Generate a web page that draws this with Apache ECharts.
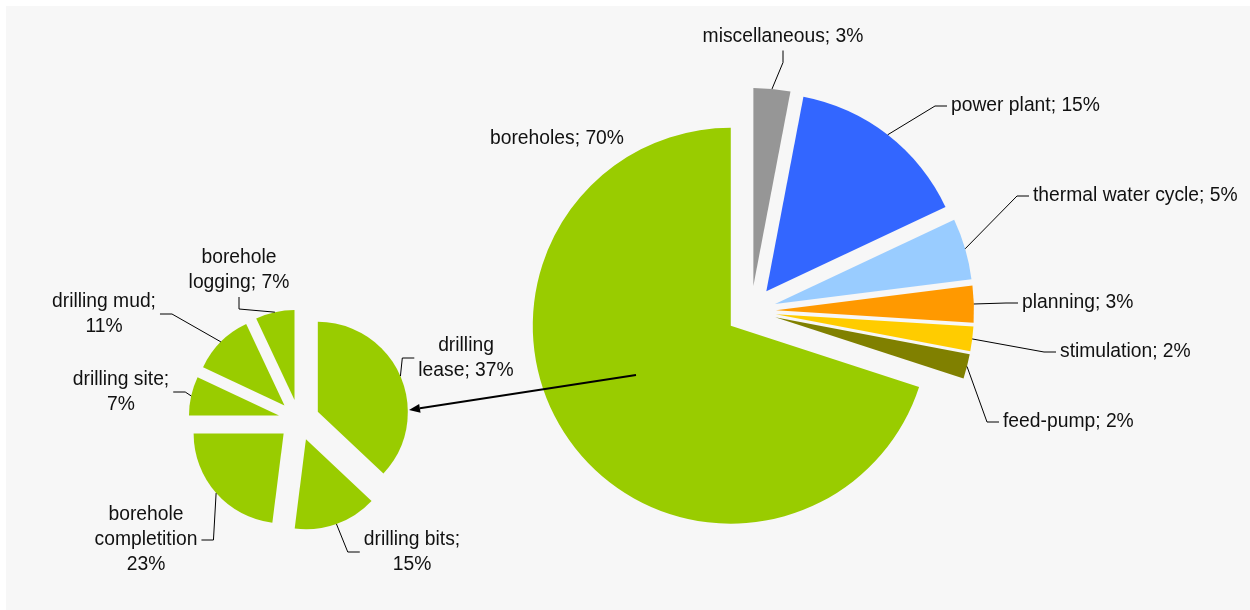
<!DOCTYPE html>
<html>
<head>
<meta charset="utf-8">
<script src="https://cdn.jsdelivr.net/npm/echarts@6/dist/echarts.min.js"></script>
<style>
  html, body { margin: 0; padding: 0; background: #fff; }
  #chart { width: 1250px; height: 610px; }
</style>
</head>
<body>
<div id="chart"></div>
<script>
// Cost shares of a geothermal project; the boreholes share is broken down in the small pie.
const mainNames  = ['miscellaneous', 'power plant', 'thermal water cycle', 'planning', 'stimulation', 'feed-pump', 'boreholes'];
const mainShares = [3, 15, 5, 3, 2, 2, 70];

const boreNames  = ['drilling lease', 'drilling bits', 'borehole completition', 'drilling site', 'drilling mud', 'borehole logging'];
const boreShares = [37, 15, 23, 7, 11, 7];

// Label text patterns for the breakdown pie ({v} = share)
const boreLabelText = ['drilling\nlease; {v}%', 'drilling bits;\n{v}%', 'borehole\ncompletition\n{v}%',
                       'drilling site;\n{v}%', 'drilling mud;\n{v}%', 'borehole\nlogging; {v}%'];

// ---- styling / layout ----
const mainColors = ['#969696', '#3366ff', '#99ccff', '#ff9900', '#ffcc00', '#808000', '#99cc00'];
const boreColor  = '#99cc00';
const FONT = 'Liberation Sans, Arial, sans-serif';
const FS = 19.3;
const PAD = 4;

const mainPie = { cx: 751, cy: 311, r: 198, offset: 25 };
const borePie = { cx: 299, cy: 420, r: 90, offset: 20.5 };

// text anchor of each label (left edge or centre of the text block, vertical middle)
const mainLabelPos = [
  { x: 783,  y: 37,  align: 'center' },
  { x: 951,  y: 106, align: 'left' },
  { x: 1033, y: 196, align: 'left' },
  { x: 1022, y: 303, align: 'left' },
  { x: 1060, y: 352, align: 'left' },
  { x: 1003, y: 422, align: 'left' },
  { x: 490,  y: 139, align: 'left' }
];
const boreLabelPos = [
  { x: 466, y: 358, align: 'center' },
  { x: 412, y: 552, align: 'center' },
  { x: 146, y: 540, align: 'center' },
  { x: 121, y: 392, align: 'center' },
  { x: 104, y: 314, align: 'center' },
  { x: 239, y: 270, align: 'center' }
];

// pointer from the boreholes slice to the breakdown pie
const arrow = { from: [636, 375], to: [409, 410], head: 11, headW: 4.5 };

const chart = echarts.init(document.getElementById('chart'), null, { renderer: 'canvas' });

function layoutFrom(posList) {
  return function (p) {
    const pos = posList[p.dataIndex];
    const shift = pos.align === 'left' ? -PAD : (pos.align === 'right' ? PAD : 0);
    return { x: pos.x + shift, y: pos.y, align: pos.align, verticalAlign: 'middle' };
  };
}

const basePie = {
  type: 'pie',
  startAngle: 90,
  clockwise: true,
  avoidLabelOverlap: false,
  animation: false,
  silent: true,
  emphasis: { disabled: true },
  itemStyle: { borderWidth: 0 }
};

// exploded slices (no labels; the labels ride on a transparent ring drawn over them)
function slices(pie, names, values, colorOf) {
  return Object.assign({}, basePie, {
    center: [pie.cx, pie.cy],
    radius: pie.r,
    selectedMode: 'multiple',
    selectedOffset: pie.offset,
    select: { itemStyle: { borderWidth: 0 } },
    label: { show: false },
    labelLine: { show: false },
    data: names.map((n, i) => ({ name: n, value: values[i], selected: true, itemStyle: { color: colorOf(i) } }))
  });
}

function labelRing(pie, names, values, label, posList, noLine) {
  return Object.assign({}, basePie, {
    center: [pie.cx, pie.cy],
    radius: pie.r + pie.offset,
    z: 5,
    itemStyle: { color: 'rgba(0,0,0,0)', borderWidth: 0 },
    label: Object.assign({ show: true, position: 'outside', color: '#111', fontFamily: FONT, fontSize: FS, padding: [2, PAD] }, label),
    labelLine: { show: true, length: 10, length2: 12, lineStyle: { color: '#000', width: 1 } },
    labelLayout: layoutFrom(posList),
    data: names.map((n, i) => ({ name: n, value: values[i], labelLine: { show: noLine.indexOf(n) < 0 } }))
  });
}

// arrow geometry
const ax = arrow.to[0] - arrow.from[0], ay = arrow.to[1] - arrow.from[1];
const alen = Math.hypot(ax, ay), ux = ax / alen, uy = ay / alen;
const baseX = arrow.to[0] - ux * arrow.head, baseY = arrow.to[1] - uy * arrow.head;

chart.setOption({
  backgroundColor: '#ffffff',
  graphic: [
    { type: 'rect', z: -10, shape: { x: 6, y: 6, width: 1244, height: 604 }, style: { fill: '#f7f7f7' } },
    { type: 'line', z: 100, shape: { x1: arrow.from[0], y1: arrow.from[1], x2: baseX, y2: baseY },
      style: { stroke: '#000', lineWidth: 2 } },
    { type: 'polygon', z: 100, shape: { points: [
        arrow.to,
        [baseX - uy * arrow.headW, baseY + ux * arrow.headW],
        [baseX + uy * arrow.headW, baseY - ux * arrow.headW]
      ] }, style: { fill: '#000' } }
  ],
  series: [
    slices(mainPie, mainNames, mainShares, i => mainColors[i]),
    slices(borePie, boreNames, boreShares, () => boreColor),
    labelRing(mainPie, mainNames, mainShares,
      { lineHeight: 23, formatter: p => p.name + '; ' + p.value + '%' },
      mainLabelPos, ['boreholes']),
    labelRing(borePie, boreNames, boreShares,
      { lineHeight: 25, align: 'center', formatter: p => boreLabelText[p.dataIndex].replace('{v}', p.value) },
      boreLabelPos, [])
  ]
});
</script>
</body>
</html>
